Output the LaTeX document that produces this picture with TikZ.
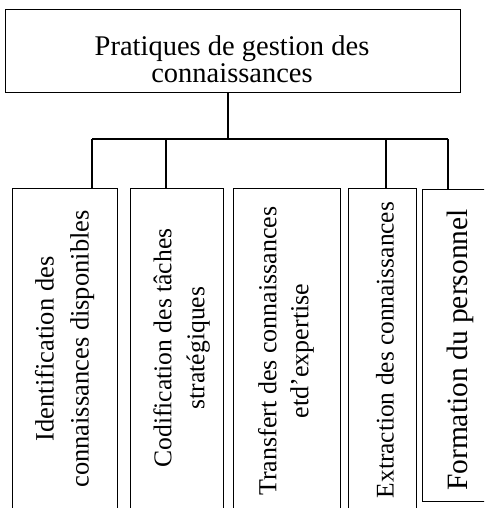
\documentclass[tikz,border=0pt]{standalone}
\usepackage{fontspec}
\setmainfont{Liberation Serif}
\tikzset{
  box/.style={draw, line width=0.8pt, rectangle, inner sep=0pt, anchor=north west},
  link/.style={draw, line width=1.3pt},
  vlabel/.style={rotate=90, align=center, inner sep=0pt},
}
\begin{document}
\begin{tikzpicture}[x=1pt,y=-1pt]
\useasboundingbox (0,0) rectangle (484,508);
\clip (0,0) rectangle (484,508);
% top box
\node[box, minimum width=455pt, minimum height=83pt] (top) at (5,9) {};
\node[align=center, inner sep=0pt, font=\fontsize{28.5}{27}\selectfont] (title) at (232,59) {Pratiques de gestion des\\connaissances};
% child boxes
\node[box, minimum width=105pt, minimum height=340pt] (b1) at (12,188) {};
\node[box, minimum width=93pt, minimum height=340pt] (b2) at (130,188) {};
\node[box, minimum width=107pt, minimum height=340pt] (b3) at (233,188) {};
\node[box, minimum width=68pt, minimum height=340pt] (b4) at (348,188) {};
\node[box, minimum width=90pt, minimum height=312pt] (b5) at (422,189) {};
% labels
\node[vlabel, font=\fontsize{26.5}{35}\selectfont] (t1) at (64.5,349) {Identification des\\connaissances disponibles};
\node[vlabel, font=\fontsize{25.6}{33}\selectfont] (t2) at (181.5,348) {Codification des tâches\\stratégiques};
\node[vlabel, font=\fontsize{26}{32}\selectfont] (t3) at (286,351) {Transfert des connaissances\\etd'expertise};
\node[vlabel, font=\fontsize{25.4}{30}\selectfont] (t4) at (385,350) {Extraction des connaissances};
\node[vlabel, font=\fontsize{29.5}{34}\selectfont] (t5) at (460,350) {Formation du personnel};
% connectors
\coordinate (hub) at (228,139);
\coordinate (busL) at (92,139);
\coordinate (busR) at (448,139);
\draw[link] (top.south -| hub) -- (hub);
\draw[link] (busL) -- (busR);
\draw[link] (busL) -- (b1.north -| busL);
\draw[link] (166,139) -- (b2.north -| 166,0);
\draw[link] (386,139) -- (b4.north -| 386,0);
\draw[link] (busR) -- (b5.north -| busR);
\end{tikzpicture}
\end{document}
